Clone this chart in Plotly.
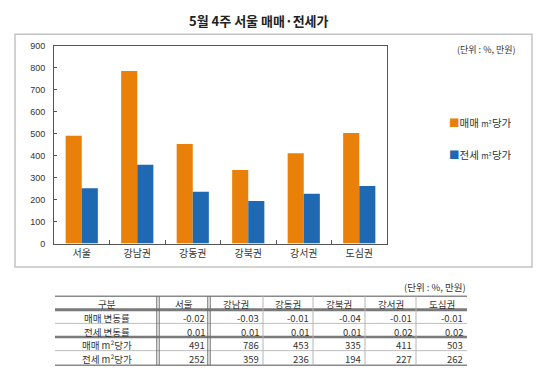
import plotly.graph_objects as go

W, H = 550, 380
categories = ["서울", "강남권", "강동권", "강북권", "강서권", "도심권"]
sale_per_m2 = [491, 786, 453, 335, 411, 503]
jeonse_per_m2 = [252, 359, 236, 194, 227, 262]
sale_change = ["-0.02", "-0.03", "-0.01", "-0.04", "-0.01", "-0.01"]
jeonse_change = ["0.01", "0.01", "0.01", "0.01", "0.02", "0.02"]
row_labels = ["매매 변동률", "전세 변동률", "매매 m²당가", "전세 m²당가"]
title_text = "5월 4주 서울 매매·전세가"
unit_text = "(단위 : %, 만원)"
legend_names = ["매매", "전세"]
legend_suffix = "m²당가"

FONT = "Noto Sans CJK KR"
ORANGE = "#E8800A"
BLUE = "#1F69B3"

def px(x):
    return x / W

def py(y):
    return 1 - y / H

fig = go.Figure()
fig.add_trace(go.Bar(x=categories, y=sale_per_m2, name=legend_names[0] + " " + legend_suffix,
                     marker=dict(color=ORANGE, line=dict(width=0))))
fig.add_trace(go.Bar(x=categories, y=jeonse_per_m2, name=legend_names[1] + " " + legend_suffix,
                     marker=dict(color=BLUE, line=dict(width=0))))

shapes = []
annotations = []

# chart outer box
shapes.append(dict(type="rect", xref="paper", yref="paper", x0=px(15), x1=px(532), y0=py(269), y1=py(30),
                   line=dict(color="#c4c4c4", width=1.5)))

# title
annotations.append(dict(text="<b>" + title_text + "</b>", x=px(259), y=py(16), xref="paper", yref="paper",
                        showarrow=False, font=dict(family=FONT, size=13, color="#222"), xanchor="center", yanchor="middle"))
# unit text (chart)
annotations.append(dict(text=unit_text, x=px(518), y=py(46), xref="paper", yref="paper", showarrow=False,
                        font=dict(family=FONT, size=9, color="#333"), xanchor="right", yanchor="middle"))
# unit text (table)
annotations.append(dict(text=unit_text, x=px(468), y=py(290), xref="paper", yref="paper", showarrow=False,
                        font=dict(family=FONT, size=9.5, color="#333"), xanchor="right", yanchor="middle"))

# manual legend
for name, col, yy in [(legend_names[0], ORANGE, 121), (legend_names[1], BLUE, 154)]:
    annotations.append(dict(
        text=f'<span style="color:{col}">■</span>{name} <span style="font-size:8px">{legend_suffix[:2]}</span>{legend_suffix[2:]}',
        x=px(447), y=py(yy), xref="paper", yref="paper", showarrow=False,
        font=dict(family=FONT, size=10.5, color="#333"), xanchor="left", yanchor="middle"))

# table geometry
col_edges = [55, 158, 209, 263, 313, 365, 416, 467]
row_edges = [299, 313, 327, 341, 355, 370]
header = ["구분"] + categories
rows = [
    [row_labels[0]] + sale_change,
    [row_labels[1]] + jeonse_change,
    [row_labels[2]] + [str(v) for v in sale_per_m2],
    [row_labels[3]] + [str(v) for v in jeonse_per_m2],
]

tfont = dict(family=FONT, size=9.5, color="#333")
DY = 1.5
for j, h in enumerate(header):
    annotations.append(dict(text=h, x=px((col_edges[j] + col_edges[j + 1]) / 2),
                            y=py((row_edges[0] + row_edges[1]) / 2 + DY),
                            xref="paper", yref="paper", showarrow=False, font=tfont, xanchor="center", yanchor="middle"))
for i, r in enumerate(rows):
    yc = py((row_edges[i + 1] + row_edges[i + 2]) / 2 + DY)
    for j, v in enumerate(r):
        if j == 0:
            annotations.append(dict(text=v, x=px((col_edges[0] + col_edges[1]) / 2), y=yc, xref="paper", yref="paper",
                                    showarrow=False, font=tfont, xanchor="center", yanchor="middle"))
        else:
            annotations.append(dict(text=v, x=px(col_edges[j + 1] - 2), y=yc, xref="paper", yref="paper",
                                    showarrow=False, font=tfont, xanchor="right", yanchor="middle"))

# horizontal lines
hl = [(299, "#8a8a8a", 1.5), (313, "#7a7a7a", 3), (327, "#bdbdbd", 1), (341, "#7a7a7a", 2.5),
      (355, "#bdbdbd", 1), (370, "#8a8a8a", 1.5)]
for y, c, w in hl:
    shapes.append(dict(type="line", xref="paper", yref="paper", x0=px(55), x1=px(467), y0=py(y), y1=py(y),
                       line=dict(color=c, width=w)))
# vertical lines
for x in col_edges[1:-1]:
    if x in (158, 209):
        for dx in (-1.2, 1.2):
            shapes.append(dict(type="line", xref="paper", yref="paper", x0=px(x + dx), x1=px(x + dx),
                               y0=py(299), y1=py(370), line=dict(color="#6a6a6a", width=1)))
    else:
        shapes.append(dict(type="line", xref="paper", yref="paper", x0=px(x), x1=px(x),
                           y0=py(299), y1=py(370), line=dict(color="#b5b5b5", width=1)))

fig.update_layout(
    width=W, height=H,
    margin=dict(l=0, r=0, t=0, b=0),
    paper_bgcolor="white", plot_bgcolor="white",
    barmode="group", bargap=0.42, bargroupgap=0,
    font=dict(family=FONT, color="#333"),
    xaxis=dict(domain=[px(54), px(387)], showline=True, linecolor="#555", linewidth=1, mirror=True,
               ticks="inside", tickson="boundaries", ticklen=4, tickcolor="#555",
               tickfont=dict(family=FONT, size=10, color="#333"), showgrid=False),
    yaxis=dict(domain=[py(245), py(42)], range=[0, 900], dtick=100, showline=True, linecolor="#555",
               linewidth=1, mirror=True, ticks="inside", ticklen=3, tickcolor="#555",
               tickfont=dict(family="Liberation Sans", size=9, color="#333"), showgrid=False,
               ticklabelstandoff=6, zeroline=False),
    showlegend=False,
    shapes=shapes,
    annotations=annotations,
)

fig.write_html("out.html", config={"displayModeBar": False},
               post_script="document.body.style.margin='0';document.body.style.overflow='hidden';")
